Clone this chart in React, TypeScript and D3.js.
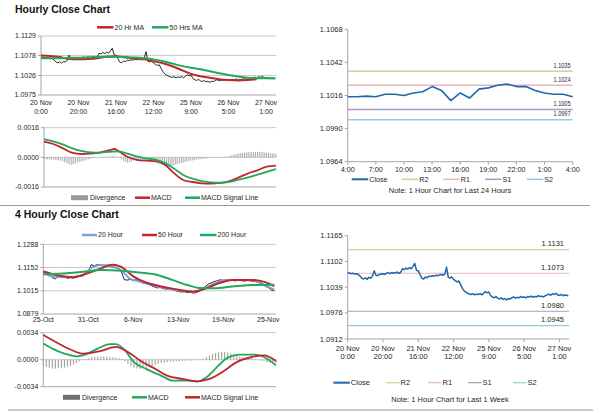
import React, { useRef, useEffect } from 'react';
import * as d3 from 'd3';

// hourly closes 20 Nov 0:00 -> 27 Nov (weekend skipped), one per bar
const hourlyClose = [
  1.1073, 1.1074, 1.1072, 1.1073, 1.1071, 1.1072, 1.1070, 1.1066, 1.1061, 1.1059,
  1.1062, 1.1058, 1.1063, 1.1061, 1.1066, 1.1079, 1.1068, 1.1067, 1.1070, 1.1071,
  1.1072, 1.1070, 1.1073, 1.1074, 1.1072, 1.1075, 1.1073, 1.1074, 1.1076, 1.1073,
  1.1075, 1.1084, 1.1082, 1.1086, 1.1083, 1.1087, 1.1084, 1.1090, 1.1097, 1.1080,
  1.1079, 1.1070, 1.1061, 1.1059, 1.1064, 1.1062, 1.1066, 1.1065, 1.1067, 1.1066,
  1.1068, 1.1067, 1.1069, 1.1070, 1.1068, 1.1071, 1.1088, 1.1063, 1.1061, 1.1064,
  1.1058, 1.1055, 1.1052, 1.1054, 1.1045, 1.1036, 1.1030, 1.1027, 1.1024, 1.1022,
  1.1021, 1.1023, 1.1020, 1.1022, 1.1021, 1.1023, 1.1020, 1.1024, 1.1028, 1.1025,
  1.1027, 1.1018, 1.1015, 1.1013, 1.1016, 1.1012, 1.1010, 1.1013, 1.1009, 1.1011,
  1.1008, 1.1011, 1.1010, 1.1013, 1.1015, 1.1012, 1.1014, 1.1013, 1.1016, 1.1014,
  1.1015, 1.1013, 1.1016, 1.1015, 1.1017, 1.1014, 1.1016, 1.1015, 1.1018, 1.1016,
  1.1017, 1.1015, 1.1018, 1.1020, 1.1022, 1.1019, 1.1023, 1.1021, 1.1024, 1.1020,
  1.1019, 1.1021, 1.1018, 1.1020, 1.1019, 1.1018,
];
const hourlyTicks = ['20 Nov|0:00', '20 Nov|20:00', '21 Nov|16:00', '22 Nov|12:00', '25 Nov|9:00', '26 Nov|5:00', '27 Nov|1:00'];
const hourlyTickStep = 20;

// moving averages as [bar, value]
const ma20Hr: [number, number][] = [
  [0, 1.1078], [5, 1.1077], [10, 1.1074], [15, 1.1069], [20, 1.1068], [25, 1.1069], [30, 1.1071],
  [35, 1.1075], [40, 1.1076], [45, 1.1073], [50, 1.1070], [55, 1.1068], [60, 1.1063], [65, 1.1058],
  [70, 1.1050], [75, 1.1040], [80, 1.1030], [85, 1.1024], [90, 1.1020], [95, 1.1016], [100, 1.1014],
  [105, 1.1013], [110, 1.1014], [115, 1.1016],
];
const ma50Hr: [number, number][] = [
  [0, 1.1071], [5, 1.1071], [10, 1.1071], [15, 1.1072], [20, 1.1072], [25, 1.1073], [30, 1.1074],
  [35, 1.1075], [40, 1.1075], [45, 1.1074], [50, 1.1073], [55, 1.1071], [60, 1.1068], [65, 1.1063],
  [70, 1.1057], [75, 1.1051], [80, 1.1046], [85, 1.1042], [90, 1.1037], [95, 1.1032], [100, 1.1027],
  [105, 1.1023], [110, 1.1020], [115, 1.1019], [120, 1.1019], [125, 1.1018],
];

// hourly MACD (x 1e-4)
const macdHr: [number, number][] = [
  [0, 8.5], [5, 7.2], [10, 5.0], [15, 2.5], [20, 1.8], [25, 2.0], [30, 2.6], [35, 3.8], [38, 4.5],
  [40, 3.5], [45, 0.3], [50, -1.3], [55, -1.8], [60, -2.0], [65, -3.8], [70, -8.5], [75, -12.2],
  [80, -13.3], [85, -14.0], [90, -14.2], [95, -13.8], [100, -12.8], [105, -10.8], [110, -8.6],
  [115, -7.0], [120, -5.0], [125, -4.5],
];
const signalHr: [number, number][] = [
  [0, 9.9], [5, 8.6], [10, 7.0], [15, 5.0], [20, 3.5], [25, 2.7], [30, 2.6], [35, 3.0], [40, 3.2],
  [45, 2.0], [50, 0.5], [55, -0.5], [60, -1.2], [65, -3.0], [70, -6.0], [75, -9.5], [80, -11.5],
  [85, -12.8], [90, -13.5], [95, -13.7], [100, -13.2], [105, -12.0], [110, -10.8], [115, -9.3],
  [120, -7.8], [125, -6.3],
];
const divergenceHr = [
  -0.8, -1.0, -1.1, -1.2, -1.3, -1.2, -1.4, -1.5, -1.6, -1.8,
  -2.2, -2.6, -3.0, -3.4, -3.8, -4.0, -3.6, -3.2, -2.8, -2.5,
  -2.2, -2.0, -1.7, -1.4, -1.1, -0.8, -0.6, -0.4, -0.2, -0.1,
  0.1, 0.2, 0.2, 0.3, 0.3, 0.4, 0.5, 0.6, 0.5, 0.3,
  0.1, -0.3, -1.2, -2.0, -2.5, -2.8, -2.6, -2.2, -1.8, -1.5,
  -1.3, -1.2, -1.2, -1.3, -1.4, -1.6, -1.8, -2.1, -2.4, -2.7,
  -3.0, -3.3, -3.6, -3.9, -4.2, -4.5, -4.7, -4.8, -4.7, -4.5,
  -4.3, -4.0, -3.7, -3.4, -3.1, -2.8, -2.5, -2.3, -2.1, -1.9,
  -1.7, -1.5, -1.3, -1.1, -1.0, -0.9, -0.8, -0.6, -0.5, -0.4,
  -0.3, -0.2, -0.1, 0.0, 0.1, 0.1, 0.2, 0.3, 0.4, 0.5,
  0.7, 1.0, 1.3, 1.6, 1.9, 2.1, 2.3, 2.5, 2.6, 2.7,
  2.7, 2.8, 2.8, 2.9, 2.9, 3.0, 2.9, 2.9, 2.8, 2.7,
  2.6, 2.5, 2.3, 2.2, 2.0, 1.9,
];

// last 24 hours
const dayClose = [
  1.1015, 1.1015, 1.10155, 1.1015, 1.1017, 1.1017, 1.1016, 1.1018, 1.1019, 1.1023,
  1.1020, 1.1012, 1.1018, 1.1014, 1.1021, 1.1022, 1.1024, 1.1025, 1.1023, 1.1023,
  1.1020, 1.1018, 1.1017, 1.1017, 1.1015,
];
const dayTicks = ['4:00', '7:00', '10:00', '13:00', '16:00', '19:00', '22:00', '1:00', '4:00'];
const dayPivots = [1.1035, 1.1024, 1.1005, 1.0997]; // R2 R1 S1 S2
const weekPivots = [1.1131, 1.1073, 1.0980, 1.0945];
const pivotNames = ['R2', 'R1', 'S1', 'S2'];
const pivotColors = ['#c4d79b', '#e6b9b8', '#a99bc0', '#92cddc'];

// 4 hourly closes 25 Oct -> 25 Nov
const fourHrClose = [
  1.1118, 1.1115, 1.1110, 1.1092, 1.1085, 1.1100, 1.1104, 1.1098, 1.1088, 1.1092,
  1.1090, 1.1097, 1.1100, 1.1103, 1.1118, 1.1130, 1.1168, 1.1162, 1.1170, 1.1165,
  1.1160, 1.1164, 1.1158, 1.1155, 1.1150, 1.1145, 1.1128, 1.1080, 1.1078, 1.1082,
  1.1076, 1.1080, 1.1070, 1.1062, 1.1058, 1.1055, 1.1045, 1.1038, 1.1032, 1.1035,
  1.1028, 1.1025, 1.1027, 1.1022, 1.1016, 1.1012, 1.1008, 1.1010, 1.1005, 1.1007,
  1.1002, 1.1004, 1.1015, 1.1026, 1.1040, 1.1055, 1.1062, 1.1070, 1.1074, 1.1080,
  1.1076, 1.1082, 1.1078, 1.1077, 1.1073, 1.1078, 1.1075, 1.1072, 1.1077, 1.1074,
  1.1070, 1.1068, 1.1066, 1.1060, 1.1042, 1.1035, 1.1020, 1.1016,
];
const fourHrTicks = ['25-Oct', '31-Oct', '6-Nov', '13-Nov', '19-Nov', '25-Nov'];
const fourHrTickStep = 15;
const ma20Hour: [number, number][] = [
  [0, 1.1122], [3, 1.1100], [8, 1.1094], [13, 1.1106], [16, 1.1150], [19, 1.1166], [23, 1.1158],
  [26, 1.1135], [29, 1.1085], [32, 1.1070], [37, 1.1045], [41, 1.1030], [46, 1.1016], [50, 1.1010],
  [53, 1.1022], [57, 1.1058], [61, 1.1078], [66, 1.1079], [70, 1.1075], [74, 1.1045], [77, 1.1022],
];
const ma50Hour: [number, number][] = [
  [0, 1.1128], [5, 1.1105], [10, 1.1095], [15, 1.1120], [19, 1.1145], [23, 1.1168], [26, 1.1155],
  [30, 1.1100], [34, 1.1065], [39, 1.1042], [44, 1.1025], [50, 1.1010], [54, 1.1028], [59, 1.1062],
  [63, 1.1078], [70, 1.1079], [74, 1.1066], [77, 1.1042],
];
const ma200Hour: [number, number][] = [
  [0, 1.1112], [8, 1.1118], [14, 1.1128], [19, 1.1137], [26, 1.1133], [32, 1.1122], [38, 1.1108],
  [43, 1.1079], [48, 1.1049], [52, 1.1032], [57, 1.1030], [63, 1.1040], [70, 1.1049], [77, 1.1050],
];
const macd4h: [number, number][] = [
  [0, 20.4], [3, 14], [7, 7.7], [11, 4.3], [14, 6.8], [18, 14], [22, 19.6], [24, 19.6], [27, 11.9],
  [30, -3], [34, -11.5], [39, -20], [43, -26.4], [48, -26.4], [51, -27.6], [54, -22], [58, -7.2],
  [61, 2.6], [65, 6.4], [70, 6.4], [73, 3.4], [77, -7.2],
];
const signal4h: [number, number][] = [
  [0, 31], [4, 22.5], [9, 12.8], [13, 7.7], [19, 11], [24, 16.2], [28, 9.8], [32, -0.9], [37, -11.5],
  [41, -20], [46, -24.2], [51, -27.2], [55, -24.2], [60, -13.6], [64, -3], [69, 3.4], [73, 5.5], [77, -1.7],
];
const divergence4h = [
  -8, -9, -10, -11, -11.5, -11, -10.5, -10, -9, -8, -6, -4, -2, -0.5,
  1, 2, 3, 3.5, 4, 4, 4, 3.8, 3.5, 3, 2.5, 2, 1,
  -2, -5, -8, -10, -11, -11.5, -11, -10, -9, -8, -6.5, -5,
  -4, -3.5, -3, -2.5, -2.5, -2, -2, -1.5, -1.5, -1, -1, -0.5, -0.3, 0,
  1, 3, 5, 7, 8.5, 9.5, 10, 10, 9, 8, 6.5,
  5, 4, 3, 2.5, 2, 1.5, 1,
  0, -1, -2, -3, -3.5, -4, -4.5,
];

const FONT = '"Liberation Sans", Arial, sans-serif';
const AXIS = '#a6a6a6';
const GRID = '#c8c8c8';
const TEXT = '#262626';
const RED = '#c0262d';
const GREEN = '#22a85a';
const BLUE = '#2167ad';
const LIGHTBLUE = '#7aa3d6';

const App: React.FC = () => {
  const ref = useRef<SVGSVGElement>(null);

  useEffect(() => {
    const svg = d3.select(ref.current);
    svg.selectAll('*').remove();

    const text = (x: number, y: number, s: string, size = 7, anchor = 'middle') =>
      svg.append('text')
        .attr('x', x).attr('y', y).attr('dy', '0.35em')
        .attr('text-anchor', anchor)
        .style('font-family', FONT).style('font-size', `${size}px`)
        .style('fill', TEXT)
        .text(s);

    const hline = (x1: number, x2: number, y: number, color: string, w = 1) =>
      svg.append('line').attr('x1', x1).attr('x2', x2).attr('y1', y).attr('y2', y)
        .attr('stroke', color).attr('stroke-width', w);

    // y axis on the left, optional gridlines, bottom axis line
    const yAxis = (y: d3.ScaleLinear<number, number>, ticks: number[], xl: number, xr: number,
      grid: boolean, size = 7) => {
      const [b, t] = y.range();
      ticks.forEach((v, i) => {
        if (grid && i > 0) hline(xl, xr, y(v), GRID);
        hline(xl - 3, xl, y(v), AXIS);
        text(xl - 5, y(v), v.toFixed(4), size, 'end');
      });
      svg.append('line').attr('x1', xl).attr('x2', xl).attr('y1', b).attr('y2', t).attr('stroke', AXIS);
      hline(xl, xr, y(ticks[0]), AXIS);
    };

    const xLabels = (x: d3.ScaleLinear<number, number>, labels: string[], step: number, y0: number,
      yAxisAt: number | null, size = 7, lineGap = 9) => {
      labels.forEach((l, i) => {
        const px = x(i * step);
        if (yAxisAt !== null) svg.append('line').attr('x1', px).attr('x2', px).attr('y1', yAxisAt).attr('y2', yAxisAt + 3).attr('stroke', AXIS);
        l.split('|').forEach((part, j) => text(px, y0 + j * lineGap, part, size));
      });
    };

    const seriesLine = (x: d3.ScaleLinear<number, number>, y: d3.ScaleLinear<number, number>,
      pts: [number, number][], color: string, w: number, smooth: boolean) => {
      const line = d3.line<[number, number]>().x(d => x(d[0])).y(d => y(d[1]));
      if (smooth) line.curve(d3.curveMonotoneX);
      svg.append('path').datum(pts).attr('d', line).attr('fill', 'none')
        .attr('stroke', color).attr('stroke-width', w).attr('stroke-linejoin', 'round');
    };
    const indexed = (vals: number[]): [number, number][] => vals.map((v, i) => [i, v]);
    const scaled = (pts: [number, number][]): [number, number][] => pts.map(d => [d[0], d[1] / 10000]);

    const bars = (x: d3.ScaleLinear<number, number>, y: d3.ScaleLinear<number, number>, vals: number[], color: string, w: number) => {
      svg.append('g').selectAll('rect').data(vals).enter().append('rect')
        .attr('x', (_, i) => x(i) - w / 2)
        .attr('y', d => y(Math.max(0, d / 10000)))
        .attr('width', w)
        .attr('height', d => Math.abs(y(d / 10000) - y(0)))
        .attr('fill', color);
    };

    const legendLine = (x: number, y: number, color: string, label: string, w = 15, sw = 2.5, size = 7) => {
      hline(x, x + w, y, color, sw);
      text(x + w + 1, y, label, size, 'start');
    };
    const legendBar = (x: number, y: number, color: string, label: string) => {
      svg.append('rect').attr('x', x).attr('y', y - 2.5).attr('width', 17).attr('height', 5).attr('fill', color);
      text(x + 19, y, label, 7, 'start');
    };

    // ---------- Hourly close chart
    svg.append('text').attr('x', 15).attr('y', 13)
      .style('font-family', FONT).style('font-size', '10.5px').style('font-weight', 'bold').style('fill', '#111')
      .text('Hourly Close Chart');

    const x1 = d3.scaleLinear().domain([0, 125]).range([41, 275.4]);
    const y1 = d3.scaleLinear().domain([1.0975, 1.1129]).range([95, 36]);
    yAxis(y1, [1.0975, 1.1026, 1.1078, 1.1129], 41, 276, true);
    seriesLine(x1, y1, indexed(hourlyClose), '#111', 0.9, false);
    seriesLine(x1, y1, ma20Hr, RED, 2, true);
    seriesLine(x1, y1, ma50Hr, GREEN, 2, true);
    xLabels(x1, hourlyTicks, hourlyTickStep, 103, null);
    legendLine(97, 27.3, RED, '20 Hr MA', 16.5);
    legendLine(152, 27.3, GREEN, '50 Hrs MA', 16.5);

    const x2 = d3.scaleLinear().domain([0, 125]).range([44, 276]);
    const y2 = d3.scaleLinear().domain([-0.0016, 0.0016]).range([187, 127.7]);
    yAxis(y2, [-0.0016, 0, 0.0016], 44, 276, true);
    bars(x2, y2, divergenceHr, '#a6a6a6', 0.9);
    seriesLine(x2, y2, scaled(macdHr), RED, 1.8, true);
    seriesLine(x2, y2, scaled(signalHr), GREEN, 1.8, true);
    legendBar(71, 197.7, '#9a9a9a', 'Divergence');
    legendLine(135, 197.7, RED, 'MACD');
    legendLine(185, 197.7, GREEN, 'MACD Signal Line');

    hline(0, 590, 205.5, '#9a9a9a');

    // ---------- last 24 hours with pivots
    const x3 = d3.scaleLinear().domain([0, 24]).range([347.7, 572.7]);
    const y3 = d3.scaleLinear().domain([1.0964, 1.1068]).range([161.7, 29.3]);
    yAxis(y3, d3.range(5).map(i => 1.0964 + i * 0.0026), 347.7, 572.7, false, 7.5);
    xLabels(x3, dayTicks, 3, 169.8, 161.7, 7.2);
    dayPivots.forEach((p, i) => {
      hline(347.7, 572.7, y3(p), pivotColors[i], 1.5);
      text(570.5, y3(p) - 6, p.toFixed(4), 7.5, 'end').attr('textLength', 17).attr('lengthAdjust', 'spacingAndGlyphs');
    });
    seriesLine(x3, y3, indexed(dayClose), BLUE, 1.6, false);
    legendLine(351.7, 179.3, BLUE, 'Close', 16.5, 2, 7.2);
    [401.7, 443.3, 485, 526.7].forEach((lx, i) => legendLine(lx, 179.3, pivotColors[i], pivotNames[i], 16.5, 1.5, 7.2));
    text(450, 190.8, 'Note: 1 Hour Chart for Last 24 Hours', 7.5);

    // ---------- 4 hourly close chart
    svg.append('text').attr('x', 15).attr('y', 218)
      .style('font-family', FONT).style('font-size', '10.5px').style('font-weight', 'bold').style('fill', '#111')
      .text('4 Hourly Close Chart');

    const x4 = d3.scaleLinear().domain([0, 77]).range([43.3, 274.3]);
    const y4 = d3.scaleLinear().domain([1.0879, 1.1288]).range([314, 244.3]);
    yAxis(y4, [1.0879, 1.1015, 1.1152, 1.1288], 43.3, 276, true);
    seriesLine(x4, y4, indexed(fourHrClose), '#111', 0.9, false);
    seriesLine(x4, y4, ma20Hour, LIGHTBLUE, 2, true);
    seriesLine(x4, y4, ma50Hour, RED, 2, true);
    seriesLine(x4, y4, ma200Hour, GREEN, 2, true);
    xLabels(x4, fourHrTicks, fourHrTickStep, 319.5, null);
    legendLine(82, 235, LIGHTBLUE, '20 Hour');
    legendLine(142, 235, RED, '50 Hour');
    legendLine(200, 235, GREEN, '200 Hour', 16.5);

    const x5 = d3.scaleLinear().domain([0, 77]).range([43.3, 276]);
    const y5 = d3.scaleLinear().domain([-0.0034, 0.0034]).range([386.7, 332.7]);
    yAxis(y5, [-0.0034, 0, 0.0034], 43.3, 276, true);
    bars(x5, y5, divergence4h, '#a6a6a6', 1.2);
    seriesLine(x5, y5, scaled(macd4h), GREEN, 1.8, true);
    seriesLine(x5, y5, scaled(signal4h), RED, 1.8, true);
    legendBar(63, 397.3, '#6f6f6f', 'Divergence');
    legendLine(132, 397.3, GREEN, 'MACD');
    legendLine(185, 397.3, RED, 'MACD Signal Line');

    // ---------- last week with pivots
    const x6 = d3.scaleLinear().domain([0, 125]).range([347.7, 568.3]);
    const y6 = d3.scaleLinear().domain([1.0912, 1.1165]).range([339, 235.7]);
    yAxis(y6, [1.0912, 1.0976, 1.1039, 1.1102, 1.1165], 347.7, 569, false, 7.5);
    xLabels(x6, hourlyTicks, hourlyTickStep, 348.3, 339, 7.5, 8.5);
    weekPivots.forEach((p, i) => {
      hline(347.7, 569, y6(p), pivotColors[i], 1.2);
      text(564, y6(p) - 6, p.toFixed(4), 7.5, 'end');
    });
    seriesLine(x6, y6, indexed(hourlyClose), BLUE, 1.5, false);
    legendLine(333.3, 382.7, BLUE, 'Close', 16.5, 2, 7.5);
    [386, 428, 468, 513].forEach((lx, i) => legendLine(lx, 382.7, pivotColors[i], pivotNames[i], 13.5, 1.2, 7.5));
    text(450, 399.5, 'Note: 1 Hour Chart for Last 1 Week', 7.5);

    hline(8, 593, 410, '#9a9a9a');
  }, []);

  return (
    <div style={{ position: 'absolute', left: 0, top: 0 }}>
      <svg ref={ref} width={600} height={413} style={{ display: 'block', background: '#fff' }} />
    </div>
  );
};

export default App;
